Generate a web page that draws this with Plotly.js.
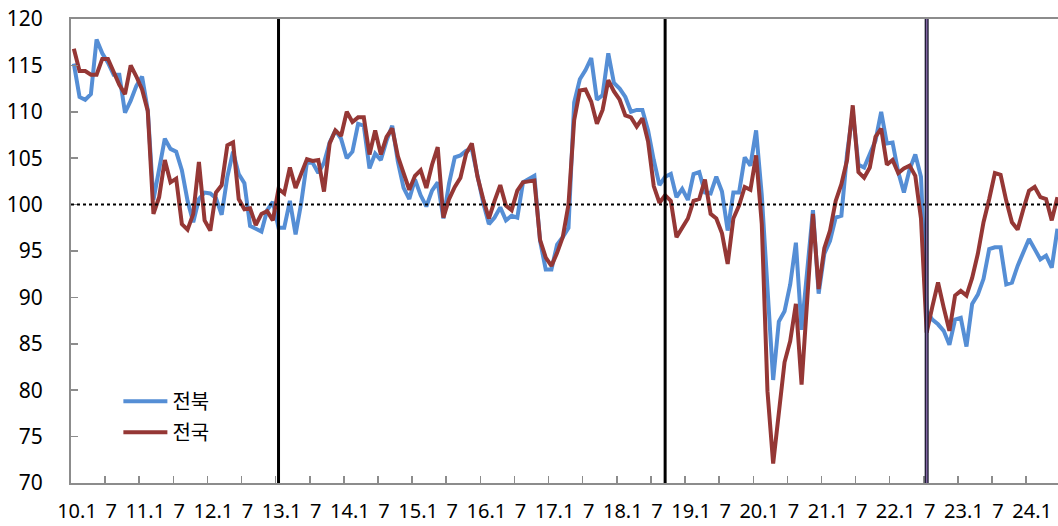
<!DOCTYPE html>
<html>
<head>
<meta charset="utf-8">
<script src="https://cdn.plot.ly/plotly-3.0.1.min.js"></script>
<style>
html,body{margin:0;padding:0;background:#fff;overflow:hidden}
#chart{width:1058px;height:526px}
</style>
</head>
<body>
<div id="chart"></div>
<script>
// Monthly index, Jan 2010 – Jun 2024
const startYear = 2010;

const seriesNames = ["전북", "전국"];

const jeonbuk = [
  115.2, 111.6, 111.3, 111.9, 117.8, 116.3, 115.3, 114.0, 114.0, 109.9, 111.2, 112.8,
  113.8, 110.2, 100.5, 103.8, 107.1, 106.0, 105.7, 103.7, 100.4, 98.1, 100.6, 101.3,
  101.2, 100.7, 98.9, 103.0, 105.7, 103.3, 102.3, 97.7, 97.4, 97.1, 99.4, 100.3,
  97.5, 97.5, 100.4, 96.8, 100.2, 104.6, 104.5, 103.4, 104.5, 106.7, 108.0, 107.1,
  105.0, 105.7, 108.7, 108.5, 103.9, 105.5, 104.8, 106.9, 108.5, 104.6, 101.8, 100.6,
  102.7, 101.0, 99.8, 101.5, 102.4, 98.5, 102.3, 105.1, 105.3, 105.8, 106.0, 103.0,
  100.2, 97.9, 98.6, 99.7, 98.3, 98.8, 98.6, 102.4, 102.8, 103.1, 96.1, 93.0,
  93.0, 95.7, 96.5, 97.5, 111.0, 113.5, 114.5, 115.8, 111.3, 111.8, 116.3, 113.1,
  112.5, 111.6, 110.0, 110.2, 110.2, 108.0, 104.8, 102.1, 103.0, 103.3, 100.8, 101.7,
  100.5, 103.3, 103.5, 101.3, 101.2, 103.0, 101.4, 97.2, 101.3, 101.3, 105.1, 104.2,
  108.0, 101.0, 91.0, 81.1, 87.4, 88.5, 91.4, 95.9, 86.5, 92.5, 99.4, 90.4,
  94.7, 96.1, 98.6, 98.8, 105.5, 110.0, 104.3, 104.0, 105.5, 106.9, 110.0, 106.6,
  106.7, 103.5, 101.3, 103.8, 105.4, 103.0, 88.5, 87.6, 87.1, 86.4, 84.9, 87.6,
  87.8, 84.7, 89.3, 90.3, 92.0, 95.2, 95.4, 95.4, 91.4, 91.6, 93.4, 95.0,
  96.3, 95.2, 94.1, 94.5, 93.2, 97.4
];

const national = [
  116.8, 114.4, 114.4, 114.0, 114.0, 115.7, 115.7, 114.3, 112.9, 111.9, 115.0, 113.8,
  112.4, 110.1, 99.0, 100.8, 104.8, 102.4, 102.8, 97.9, 97.3, 99.0, 104.6, 98.3,
  97.2, 101.3, 102.1, 106.4, 106.7, 100.6, 99.5, 99.6, 97.8, 99.0, 99.3, 98.3,
  101.7, 101.2, 104.0, 101.8, 103.3, 104.9, 104.7, 104.8, 101.4, 106.6, 108.0, 107.4,
  110.0, 108.9, 109.4, 109.4, 105.4, 108.0, 105.4, 107.3, 108.2, 105.2, 103.4, 101.6,
  103.1, 103.7, 101.8, 104.3, 106.2, 98.6, 100.6, 101.9, 102.9, 105.5, 106.6, 103.0,
  100.6, 98.5, 100.4, 102.1, 99.9, 99.4, 101.5, 102.4, 102.5, 102.6, 96.2, 94.3,
  93.4, 94.8, 96.5, 100.0, 109.1, 112.3, 112.4, 111.1, 108.7, 110.2, 113.4, 112.2,
  111.3, 109.6, 109.4, 108.4, 109.3, 106.8, 102.0, 100.2, 101.0, 100.4, 96.5, 97.5,
  98.5, 100.4, 100.6, 102.7, 99.0, 98.5, 96.9, 93.6, 98.5, 99.9, 101.9, 101.6,
  105.3, 97.9, 79.9, 72.1, 77.3, 83.0, 85.3, 89.3, 80.6, 90.3, 99.0, 90.9,
  95.3, 97.2, 100.4, 102.2, 104.8, 110.7, 103.5, 102.9, 104.0, 107.3, 108.2, 104.3,
  104.8, 103.4, 103.9, 104.2, 103.1, 98.5, 86.2, 89.0, 91.6, 88.9, 86.4, 90.2,
  90.7, 90.2, 92.1, 94.7, 98.1, 100.6, 103.4, 103.2, 100.4, 98.1, 97.3, 99.5,
  101.5, 101.9, 100.8, 100.6, 98.3, 100.8
];

const tickLabels = [
  "10.1","7","11.1","7","12.1","7","13.1","7","14.1","7","15.1","7","16.1","7",
  "17.1","7","18.1","7","19.1","7","20.1","7","21.1","7","22.1","7","23.1","7","24.1"
];

const yTicks = [70, 75, 80, 85, 90, 95, 100, 105, 110, 115, 120];
const referenceLevel = 100;
const markerPeriods = ["2013.01", "2018.09", "2022.07"];

// period labels and numeric month positions
const periods = jeonbuk.map((_, i) =>
  (startYear + Math.floor(i / 12)) + "." + String(i % 12 + 1).padStart(2, "0"));
const xIdx = periods.map((_, i) => i);
const tickVals = tickLabels.map((_, k) => k * 6 - 0.5);
const markerIdx = markerPeriods.map(p => periods.indexOf(p));

const axisGray = "#8c8c8c";
const blue = "#558ED5";
const red = "#953735";

const traces = [
  {x: xIdx, y: jeonbuk, text: periods, name: seriesNames[0], type: "scatter", mode: "lines",
   line: {color: blue, width: 4}, legendgroup: "a", hovertemplate: "%{text}: %{y}<extra>전북</extra>"},
  {x: xIdx, y: national, text: periods, name: seriesNames[1], type: "scatter", mode: "lines",
   line: {color: red, width: 4}, legendgroup: "b", hovertemplate: "%{text}: %{y}<extra>전국</extra>"}
];

const shapes = [
  {type: "line", xref: "paper", x0: 0, x1: 1, yref: "y", y0: referenceLevel, y1: referenceLevel,
   line: {color: "#000", width: 2, dash: "dot"}},
  {type: "line", xref: "x", x0: markerIdx[0], x1: markerIdx[0], yref: "paper", y0: 0, y1: 1,
   line: {color: "#000", width: 3}},
  {type: "line", xref: "x", x0: markerIdx[1], x1: markerIdx[1], yref: "paper", y0: 0, y1: 1,
   line: {color: "#000", width: 3}},
  {type: "line", xref: "x", x0: markerIdx[2], x1: markerIdx[2], yref: "paper", y0: 0, y1: 1,
   line: {color: "#1a1a2e", width: 4}},
  {type: "line", xref: "x", x0: markerIdx[2], x1: markerIdx[2], yref: "paper", y0: 0, y1: 1,
   line: {color: "#8064A2", width: 1.5}}
];

const tickFont = {family: "Noto Sans, DejaVu Sans, sans-serif", size: 21, color: "#000"};
const xTickFont = {family: "Noto Sans, DejaVu Sans, sans-serif", size: 20, color: "#000"};

const layout = {
  width: 1058, height: 526,
  margin: {l: 71, r: 0, t: 19, b: 43, pad: 0},
  paper_bgcolor: "#fff", plot_bgcolor: "#fff",
  showlegend: true,
  legend: {
    x: 0.048, y: 0.218, xanchor: "left", yanchor: "top",
    bgcolor: "rgba(0,0,0,0)", borderwidth: 0,
    font: {family: "Noto Sans CJK KR, Noto Sans, sans-serif", size: 20, color: "#000"},
    tracegroupgap: 2, itemwidth: 44
  },
  xaxis: {
    range: [-0.5, 173.1], tickmode: "array", tickvals: tickVals, ticktext: tickLabels,
    ticks: "inside", ticklen: 7, tickwidth: 1.5, tickcolor: axisGray,
    showline: true, linecolor: axisGray, linewidth: 2, mirror: true,
    showgrid: false, zeroline: false, tickangle: 0, tickfont: xTickFont,
    ticklabelshift: 6, ticklabelstandoff: 9
  },
  yaxis: {
    range: [70, 120], tickmode: "array", tickvals: yTicks,
    ticks: "inside", ticklen: 7, tickwidth: 1.5, tickcolor: axisGray,
    showline: true, linecolor: axisGray, linewidth: 2,
    showgrid: false, zeroline: false, tickfont: tickFont,
    ticklabelstandoff: 22
  },
  shapes: shapes
};

Plotly.newPlot("chart", traces, layout, {displayModeBar: false, staticPlot: true});
</script>
</body>
</html>
